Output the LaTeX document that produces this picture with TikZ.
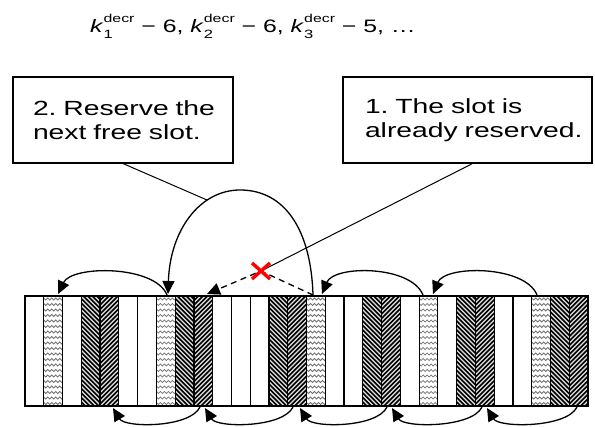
\documentclass[tikz,border=0pt]{standalone}
\usepackage{fontspec}
\setmainfont{Liberation Sans}[FakeStretch=1.38]
\usetikzlibrary{arrows.meta,calc}
\frenchspacing
\newcommand\kd[1]{\textit{k}\rlap{\raisebox{-6pt}{\fontsize{12}{12}\selectfont #1}}\raisebox{10pt}{\fontsize{11.5}{11.5}\selectfont decr}}
\begin{document}
\begin{tikzpicture}[x=1pt,y=-1pt,
  slot/.style={draw=none, fill=white, inner sep=0pt, outer sep=0pt, minimum width=18.767pt, minimum height=110pt},
  sep/.style={draw=black, line width=1.2pt},
  hatch/.style={draw=black, line width=1.6pt},
  dotmark/.style={draw=black!55, line width=0.8pt},
  callout/.style={draw=black, line width=1.1pt, rectangle, minimum height=86pt, inner ysep=0pt, align=left, font=\fontsize{20.5}{23.5}\selectfont},
  hop/.style={draw=black, line width=1.3pt, -{Triangle[length=13pt,width=12pt]}},
  lead/.style={draw=black, line width=1pt}
]
\useasboundingbox (0,0) rectangle (595,427);
\fill[white] (0,0) rectangle (595,427);

% title
\node[anchor=base west, inner sep=0pt, font=\fontsize{18}{21}\selectfont] (title) at (90,33)
  {\kd{1} − 6, \kd{2} − 6, \kd{3} − 5, …};

% callouts
\node[callout, text width=180pt, inner xsep=20pt] (box2) at (123,120)
  {\mbox{2. Reserve the}\\\mbox{next free slot.}};
\node[callout, text width=205pt, inner xsep=22pt] (box1) at (467.5,120)
  {\mbox{1. The slot is}\\\mbox{already reserved.}};

% slots
\foreach \i in {1,...,30}{
  \pgfmathsetmacro\xc{25+(\i-0.5)*18.767}
  \node[slot] (s\i) at (\xc,351) {};
}
% hatched slots, falling lines
\foreach \i in {4,9,14,19,24,29}{
  \pgfmathsetmacro\xl{25+(\i-1)*18.767}
  \begin{scope}
    \clip (s\i.north west) rectangle (s\i.south east);
    \fill[black!12] (s\i.north west) rectangle (s\i.south east);
    \foreach \d in {-115,-110.5,...,20}{\draw[hatch] (\xl+\d,296) -- ++(110,110);}
  \end{scope}
}
% hatched slots, rising lines
\foreach \i in {5,10,15,20,25,30}{
  \pgfmathsetmacro\xl{25+(\i-1)*18.767}
  \begin{scope}
    \clip (s\i.north west) rectangle (s\i.south east);
    \fill[black!12] (s\i.north west) rectangle (s\i.south east);
    \foreach \d in {0,4.5,...,135}{\draw[hatch] (\xl+\d,296) -- ++(-110,110);}
  \end{scope}
}
% dotted slots
\foreach \i in {2,8,16,22,28}{
  \pgfmathsetmacro\xl{25+(\i-1)*18.767}
  \begin{scope}
    \clip (s\i.north west) rectangle (s\i.south east);
    \foreach \yy in {298,303.5,...,406}{
      \draw[dotmark] (\xl,\yy) \foreach \k in {0,...,4}{ -- ++(2,2) -- ++(2,-2)};
    }
  \end{scope}
}
\foreach \i in {1,...,29}{
  \draw[sep] (s\i.north east) -- (s\i.south east);
}
\draw[sep] (s1.north west) rectangle (s30.south east);

% arc end points
\coordinate (a1s) at (167,295);  \coordinate (a1e) at (58,294);
\coordinate (bs)  at (313,295);  \coordinate (be)  at (168,294);
\coordinate (de)  at (207,294);
\coordinate (a4s) at (423,295);  \coordinate (a4e) at (322,294);
\coordinate (a5s) at (537,295);  \coordinate (a5e) at (433,294);
\coordinate (bp)  at (207,200);
\coordinate (xmark) at (261,271);

% top hops
\draw[hop] (a1s) .. controls (155,265) and (72,265) .. (a1e);
\draw[hop] (a4s) .. controls (411,265) and (334,265) .. (a4e);
\draw[hop] (a5s) .. controls (525,265) and (445,265) .. (a5e);
\draw[hop] (bs) .. controls (311,230) and (285,190) .. (240,190) .. controls (200,190) and (170,230) .. (be);
\draw[hop, dash pattern=on 6pt off 4.5pt] (bs) -- (xmark) -- (de);

% callout leads
\draw[lead] (box2.south) -- (bp);
\draw[lead] ($(box1.south west)!0.52!(box1.south east)$) -- (xmark);

% red cross
\draw[red, line width=3.4pt] ($(xmark)+(-9,-8)$) -- ($(xmark)+(9,8)$) ($(xmark)+(9,-8)$) -- ($(xmark)+(-9,8)$);

% bottom hops
\coordinate (b1s) at (200,407); \coordinate (b1e) at (113,408);
\coordinate (b2s) at (293,407); \coordinate (b2e) at (205,408);
\coordinate (b3s) at (387,407); \coordinate (b3e) at (300,408);
\coordinate (b4s) at (482,407); \coordinate (b4e) at (392,408);
\coordinate (b5s) at (577,407); \coordinate (b5e) at (487,408);
\draw[hop] (b1s) .. controls (190,428) and (125,428) .. (b1e);
\draw[hop] (b2s) .. controls (283,428) and (217,428) .. (b2e);
\draw[hop] (b3s) .. controls (377,428) and (312,428) .. (b3e);
\draw[hop] (b4s) .. controls (472,428) and (404,428) .. (b4e);
\draw[hop] (b5s) .. controls (567,428) and (499,428) .. (b5e);
\end{tikzpicture}
\end{document}
